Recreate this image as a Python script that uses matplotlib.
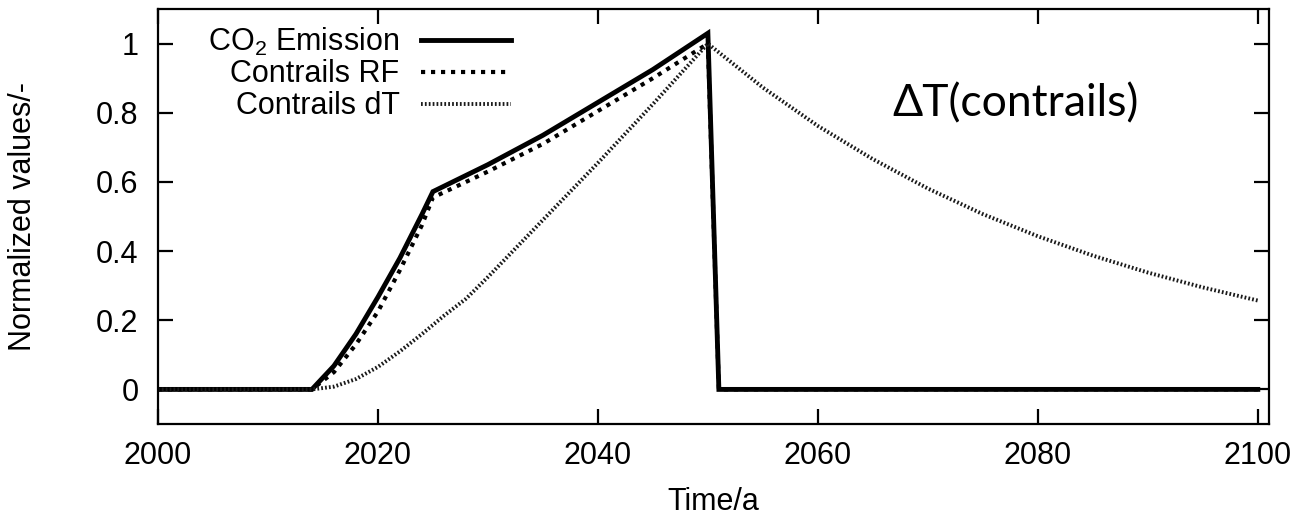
import matplotlib
matplotlib.use("Agg")
import matplotlib.pyplot as plt

plt.rcParams["font.family"] = ["Liberation Sans", "DejaVu Sans"]
plt.rcParams["mathtext.fontset"] = "custom"
plt.rcParams["mathtext.rm"] = "Liberation Sans"
plt.rcParams["mathtext.it"] = "Liberation Sans:italic"

# Normalized CO2 emission
emis_years = [2000, 2014, 2016, 2018, 2020, 2022, 2024, 2025,
              2030, 2035, 2040, 2045, 2050, 2051, 2100]
emis_vals = [0.0, 0.0, 0.068, 0.16, 0.267, 0.38, 0.506, 0.572,
             0.65, 0.735, 0.83, 0.925, 1.03, 0.0, 0.0]

# Normalized contrail radiative forcing
rf_years = [2000, 2014, 2016, 2018, 2020, 2022, 2024, 2025,
            2030, 2035, 2040, 2045, 2050, 2051, 2100]
rf_vals = [0.0, 0.0, 0.05, 0.13, 0.225, 0.345, 0.475, 0.555,
           0.63, 0.71, 0.805, 0.9, 1.0, 0.0, 0.0]

# Normalized contrail temperature response
dt_years = [2000, 2014, 2016, 2018, 2020, 2022, 2024, 2026, 2028,
            2030, 2035, 2040, 2045, 2050, 2055, 2060, 2065, 2070,
            2075, 2080, 2085, 2090, 2095, 2100]
dt_vals = [0.0, 0.0, 0.008, 0.03, 0.065, 0.11, 0.16, 0.213, 0.262,
           0.325, 0.49, 0.655, 0.825, 1.0, 0.873, 0.762, 0.666, 0.581,
           0.507, 0.443, 0.387, 0.338, 0.295, 0.257]

x_ticks = [2000, 2020, 2040, 2060, 2080, 2100]
y_ticks = [0, 0.2, 0.4, 0.6, 0.8, 1]
y_tick_labels = ["0", "0.2", "0.4", "0.6", "0.8", "1"]

fig = plt.figure(figsize=(13, 5.18), dpi=100)
ax = fig.add_axes([0.1215, 0.1815, 0.8545, 0.801])

ax.plot(emis_years, emis_vals, color="black", lw=3.5,
        solid_joinstyle="miter", label="CO$_2$ Emission")
ax.plot(rf_years, rf_vals, color="black", lw=3.0,
        linestyle=(0, (1.0, 1.4)), label="Contrails RF")
ax.plot(dt_years, dt_vals, color="#1a1a1a", lw=2.8,
        linestyle=(0, (0.45, 0.55)), label="Contrails dT")

ax.set_xlim(2000, 2101)
ax.set_ylim(-0.1, 1.1)
ax.set_xticks(x_ticks)
ax.set_yticks(y_ticks)
ax.set_yticklabels(y_tick_labels)

for s in ax.spines.values():
    s.set_linewidth(1.6)
ax.tick_params(direction="in", length=11, width=1.6, labelsize=22,
               top=True, right=True)
ax.tick_params(axis="x", pad=12)
ax.tick_params(axis="y", pad=14)

ax.set_xlabel("Time/a", fontsize=22)
ax.xaxis.set_label_coords(0.5, -0.153)
ax.set_ylabel("Normalized values/-", fontsize=22)
ax.yaxis.set_label_coords(-0.108, 0.5)

leg = ax.legend(loc="upper left", bbox_to_anchor=(0.04, 0.975),
                frameon=False, markerfirst=False, fontsize=22,
                handlelength=2.95, handletextpad=0.7, labelspacing=0.06,
                borderaxespad=0.0, borderpad=0.2)

ax.text(0.661, 0.74, "\u0394T(contrails)", transform=ax.transAxes,
        family=["Lato", "DejaVu Sans"], fontsize=32, va="baseline",
        ha="left")

fig.savefig("out.png", dpi=100)
